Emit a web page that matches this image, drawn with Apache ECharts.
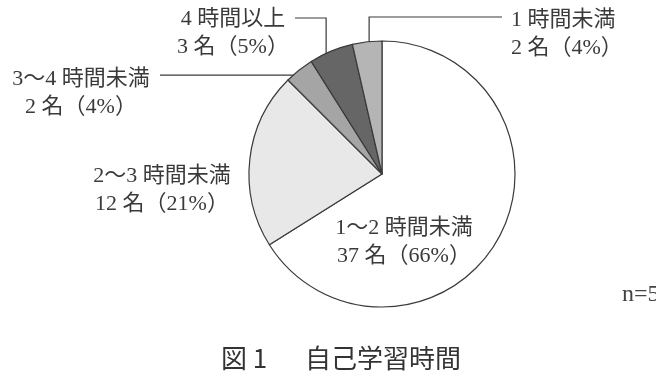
<!DOCTYPE html>
<html><head><meta charset="utf-8">
<script src="https://cdn.jsdelivr.net/npm/echarts@6/dist/echarts.min.js"></script>
<style>html,body{margin:0;padding:0;background:#fff}#c{width:656px;height:378px}</style>
</head><body><div id="c"></div>
<script>
const categories = ['1〜2 時間未満', '2〜3 時間未満', '3〜4 時間未満', '4 時間以上', '1 時間未満'];
const counts = [37, 12, 2, 3, 2];
const percents = [66, 21, 4, 5, 4];
const sliceColors = ['#ffffff', '#e8e8e8', '#a5a5a5', '#666666', '#b5b5b5'];
const totalLabel = 'n=56';
const chartTitle = '図 1　  自己学習時間';

const CENTER = [382, 174], RADIUS = 133;
const SERIF = '"Liberation Serif", "Noto Sans CJK JP", serif';
const labelPlacement = [
  {x: 404, y: 242, align: 'center'},
  {x: 162, y: 190, align: 'center'},
  {x: 81, y: 93, align: 'center', line: {frac: 0.5, rad: 0.95, endX: 160}},
  {x: 233, y: 33, align: 'center', line: {frac: 0.29, rad: 0.94, elbowY: 18, endX: 295}},
  {x: 511, y: 34, align: 'left', line: {frac: 0.53, rad: 0.92, elbowY: 17, endX: 502}}
];

const total = counts.reduce((a, b) => a + b, 0);
const chart = echarts.init(document.getElementById('c'), null, {renderer: 'canvas'});
chart.setOption({
  animation: false,
  backgroundColor: '#ffffff',
  title: [
    {text: chartTitle, left: 216, top: 340,
     textStyle: {fontFamily: '"Noto Sans CJK JP", sans-serif', fontSize: 26, fontWeight: 'normal', color: '#333333'}},
    {text: totalLabel, left: 617, top: 278,
     textStyle: {fontFamily: SERIF, fontSize: 24, fontWeight: 'normal', color: '#444444'}}
  ],
  series: [{
    type: 'pie',
    center: CENTER,
    radius: RADIUS,
    startAngle: 90,
    clockwise: true,
    avoidLabelOverlap: false,
    silent: true,
    itemStyle: {borderColor: '#3a3a3a', borderWidth: 1.2},
    label: {
      show: true,
      position: 'outside',
      fontFamily: SERIF,
      fontSize: 22,
      lineHeight: 28,
      color: '#3a3a3a',
      formatter: p => categories[p.dataIndex] + '\n' + counts[p.dataIndex] + ' 名（' + percents[p.dataIndex] + '%）'
    },
    labelLine: {show: true, lineStyle: {color: '#3a3a3a', width: 1.2}},
    labelLayout: function (p) {
      const i = p.dataIndex, L = labelPlacement[i];
      const out = {x: L.x, y: L.y, align: L.align, verticalAlign: 'middle'};
      if (L.line) {
        let before = 0;
        for (let k = 0; k < i; k++) before += counts[k];
        const ang = (before + counts[i] * L.line.frac) / total * 2 * Math.PI;
        const sx = CENTER[0] + RADIUS * L.line.rad * Math.sin(ang);
        const sy = CENTER[1] - RADIUS * L.line.rad * Math.cos(ang);
        out.labelLinePoints = L.line.elbowY != null
          ? [[sx, sy], [sx, L.line.elbowY], [L.line.endX, L.line.elbowY]]
          : [[sx, sy], [(sx + L.line.endX) / 2, sy], [L.line.endX, sy]];
      }
      return out;
    },
    data: categories.map((c, i) => ({
      name: c,
      value: counts[i],
      itemStyle: {color: sliceColors[i]},
      labelLine: {show: !!labelPlacement[i].line}
    }))
  }]
});
</script></body></html>
